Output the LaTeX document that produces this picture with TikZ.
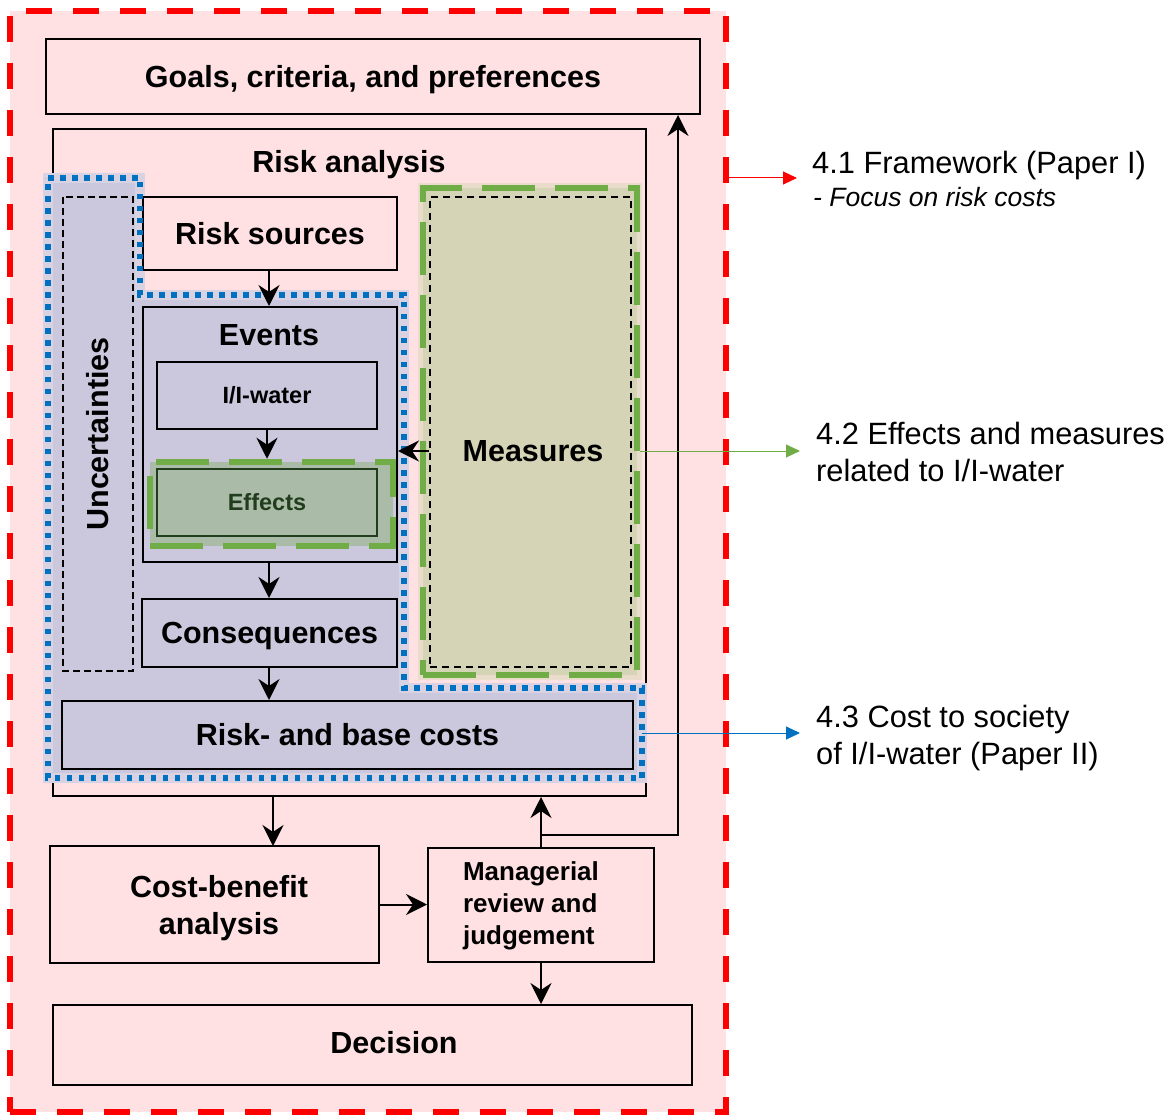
\documentclass[tikz,border=0pt]{standalone}
\usepackage{fontspec}
\setmainfont{Liberation Sans}
\usetikzlibrary{arrows.meta,calc}

\definecolor{bgpink}{HTML}{FFE1E3}
\definecolor{lav}{HTML}{CBC8DD}
\definecolor{lavhalo}{HTML}{D9D2E2}
\definecolor{khaki}{HTML}{D6D4B6}
\definecolor{khakihalo}{HTML}{E9DCCB}
\definecolor{effill}{HTML}{AABBA8}
\definecolor{gdash}{HTML}{70AD47}
\definecolor{bdot}{HTML}{0070C0}
\definecolor{dkgreen}{HTML}{223D1E}
\definecolor{fred}{HTML}{FF0000}

\tikzset{
  box/.style={draw=black, line width=2pt, inner sep=0pt},
  bigfont/.style={font=\fontsize{30.5}{37}\selectfont\bfseries},
  bigtxt/.style={bigfont, text height=28pt, text depth=6.1pt},
  midtxt/.style={font=\fontsize{26}{32}\selectfont\bfseries},
  smalltxt/.style={font=\fontsize{23.5}{28}\selectfont\bfseries, text height=21.6pt, text depth=4.7pt},
  sidetxt/.style={font=\fontsize{30.8}{37}\selectfont, inner sep=0pt},
  sideit/.style={font=\fontsize{26.5}{32}\selectfont\itshape, inner sep=0pt},
  greendash/.style={draw=gdash, line width=6.5pt, dash pattern=on 53pt off 20pt, inner sep=0pt},
  bluedots/.style={draw=bdot, line width=5.5pt, dash pattern=on 5.5pt off 6.5pt},
  arr/.style={line width=2pt, -{Stealth[length=21pt,width=21pt,inset=7pt]}},
  sidearr/.style={line width=1pt, -{Triangle[length=14pt,width=13pt]}},
}

\begin{document}
\begin{tikzpicture}[x=1pt,y=-1pt]
\useasboundingbox (0,0) rectangle (1176,1115);

% outer frame of the method
\node[fill=bgpink, draw=fred, line width=6pt, dash pattern=on 26pt off 21pt,
      inner sep=0pt, minimum width=716pt, minimum height=1101pt] (frame) at (368,561.5) {};

% goals
\node[box, minimum width=654pt, minimum height=75pt, bigtxt] (goals) at (373,76.5)
  {Goals, criteria, and preferences};

% risk analysis container
\node[box, minimum width=593pt, minimum height=667pt] (ra) at (349.5,462.5) {};
\node[bigtxt] (ral) at (349,162) {Risk analysis};

% uncertainty region (fill)
\draw[lavhalo, line width=10pt, fill=lav, line join=miter]
  (48,178) -- (140,178) -- (140,295) -- (404,295) -- (404,688) -- (642,688)
  -- (642,778) -- (48,778) -- cycle;

\node[draw=black, line width=1.2pt, dash pattern=on 7pt off 4pt, inner sep=0pt,
      rotate=90, minimum width=474pt, minimum height=70pt, bigtxt] (unc) at (98,434)
  {Uncertainties};

\node[box, fill=bgpink, minimum width=254pt, minimum height=73pt, bigtxt] (rs) at (270,233.5)
  {Risk sources};

\node[box, fill=lav, minimum width=254pt, minimum height=255pt] (ev) at (270,434.5) {};
\node[bigtxt] (evl) at (269,335) {Events};

\node[box, fill=lav, minimum width=220pt, minimum height=67pt, smalltxt] (iw) at (267,395.5)
  {I/I-water};

% effects
\node[greendash, fill=effill, minimum width=243pt, minimum height=84pt] (efr) at (271.5,504) {};
\node[draw=dkgreen, line width=2pt, fill=effill, inner sep=0pt, minimum width=220pt,
      minimum height=67pt, smalltxt, text=dkgreen] (ef) at (267,502.5) {Effects};

% measures
\fill[khakihalo] (418,183) rectangle (642,680);
\node[greendash, fill=khaki, minimum width=214pt, minimum height=487pt] (msr) at (530,431.5) {};
\node[draw=black, line width=2pt, dash pattern=on 7pt off 5pt, inner sep=0pt,
      minimum width=201pt, minimum height=470pt] (ms) at (530.5,432) {};
\node[bigtxt] (msl) at (533,451) {Measures};

\node[box, fill=lav, minimum width=255pt, minimum height=68pt, bigtxt] (co) at (269.5,633)
  {Consequences};

\node[box, fill=lav, minimum width=571pt, minimum height=68pt, bigtxt] (rb) at (347.5,735)
  {Risk- and base costs};

% dotted outline of the uncertainty region
\draw[bluedots]
  (48,178) -- (140,178) -- (140,295) -- (404,295) -- (404,688) -- (642,688)
  -- (642,778) -- (48,778) -- cycle;

% lower boxes
\node[box, fill=bgpink, minimum width=329pt, minimum height=117pt] (cb) at (214.5,904.5) {};
\node[bigfont, align=center] (cbl) at (219,908.5) {Cost-benefit\\analysis};
\node[box, fill=bgpink, minimum width=226pt, minimum height=114pt] (mr) at (541,905) {};
\node[midtxt, align=left] (mrl) at (531,906) {Managerial\\review and\\judgement};
\node[box, fill=bgpink, minimum width=639pt, minimum height=80pt] (de) at (372.5,1045) {};
\node[bigtxt] (del) at (394,1043) {Decision};

% connectors
\draw[arr] (rs.south -| 269,0) -- (ev.north -| 269,0);
\draw[arr] (iw.south) -- (iw.south |- efr.north);
\draw[arr] (ms.west |- msl) -- (ev.east |- msl);
\draw[arr] (ev.south -| 269,0) -- (co.north -| 269,0);
\draw[arr] (co.south -| 269,0) -- (rb.north -| 269,0);
\coordinate (cbin) at (273,846);
\draw[arr] (cbin |- ra.south) -- (cbin);
\draw[arr] (cb.east) -- (mr.west |- cb.east);
\draw[arr] (mr.south) -- (mr.south |- de.north);
\draw[arr] (mr.north) -- (mr.north |- ra.south);
\coordinate (fb) at (678,835);
\draw[arr] (mr.north |- fb) -- (fb) -- (fb |- goals.south);

% references to the chapters
\coordinate (r1) at (797,178);
\draw[sidearr, fred] (frame.east |- r1) -- (r1);
\node[sidetxt, anchor=base west] (t41) at (812,174) {4.1 Framework (Paper I)};
\node[sideit, anchor=base west] (t41b) at (813,207) {- Focus on risk costs};

\coordinate (g1) at (800,451);
\draw[sidearr, gdash] (msr.east |- g1) -- (g1);
\node[sidetxt, anchor=base west] (t42) at (816,444) {4.2 Effects and measures};
\node[sidetxt, anchor=base west] (t42b) at (816,481) {related to I/I-water};

\coordinate (bluer) at (642,733);
\coordinate (b1) at (800,733);
\draw[sidearr, bdot] (bluer) -- (b1);
\node[sidetxt, anchor=base west] (t43) at (816,727) {4.3 Cost to society};
\node[sidetxt, anchor=base west] (t43b) at (816,764) {of I/I-water (Paper II)};
\end{tikzpicture}
\end{document}
